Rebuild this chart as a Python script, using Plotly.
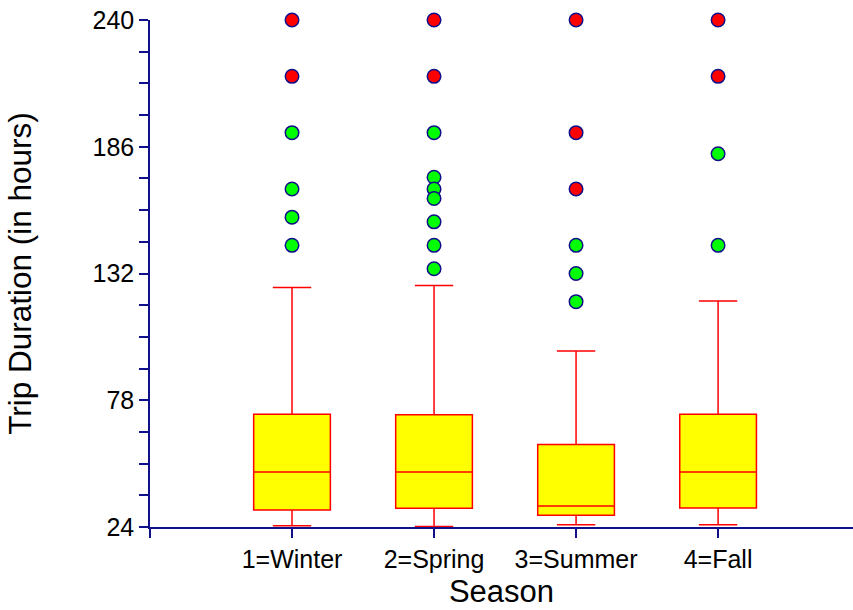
import plotly.graph_objects as go

# Trip duration summary per season (hours)
seasons = ["1=Winter", "2=Spring", "3=Summer", "4=Fall"]
season_pos = [1, 2, 3, 4]
q1 = [31.2, 32.0, 29.0, 32.1]
median = [47.4, 47.4, 32.9, 47.4]
q3 = [72.0, 71.8, 59.2, 72.0]
lower_whisker = [24.5, 24.2, 25.0, 25.0]
upper_whisker = [126.0, 126.9, 99.0, 120.3]

# Outliers: near (between inner and outer fence) and far (beyond outer fence)
near_season = [1, 1, 1, 1,
               2, 2, 2, 2, 2, 2, 2,
               3, 3, 3,
               4, 4]
near_value = [192, 168, 156, 144,
              192, 173, 168, 164, 154, 144, 134,
              144, 132, 120,
              183, 144]
far_season = [1, 1, 2, 2, 3, 3, 3, 4, 4]
far_value = [240, 216, 240, 216, 240, 192, 168, 240, 216]

NAVY = "#10108a"
FONT = "Liberation Sans, Arial, sans-serif"

fig = go.Figure()
fig.add_trace(go.Box(
    x=season_pos,
    q1=q1, median=median, q3=q3,
    lowerfence=lower_whisker, upperfence=upper_whisker,
    boxpoints=False,
    fillcolor="#ffff00",
    line=dict(color="#ff0000", width=1.5),
    width=0.54,
    whiskerwidth=0.5,
    showlegend=False,
    hoverinfo="skip",
))
fig.add_trace(go.Scatter(
    x=near_season, y=near_value, mode="markers",
    marker=dict(size=13.5, color="#00ff00", line=dict(color=NAVY, width=1.5)),
    cliponaxis=False, showlegend=False,
))
fig.add_trace(go.Scatter(
    x=far_season, y=far_value, mode="markers",
    marker=dict(size=13.5, color="#ff0000", line=dict(color=NAVY, width=1.5)),
    cliponaxis=False, showlegend=False,
))

fig.update_layout(
    width=853, height=610,
    margin=dict(l=150, r=0, t=20, b=83),
    paper_bgcolor="white", plot_bgcolor="white",
    font=dict(family=FONT, color="black"),
    xaxis=dict(
        range=[0, 4.95],
        tickmode="array",
        tickvals=[0] + season_pos,
        ticktext=[""] + seasons,
        ticks="outside", ticklen=9, tickwidth=1.5, tickcolor=NAVY,
        showline=True, linecolor=NAVY, linewidth=1.5,
        showgrid=False, zeroline=False,
        tickfont=dict(size=25),
        title=dict(text="Season", font=dict(size=31), standoff=9),
    ),
    yaxis=dict(
        range=[24, 240],
        tickmode="linear", tick0=24, dtick=54,
        ticks="outside", ticklen=9, tickwidth=1.5, tickcolor=NAVY,
        minor=dict(dtick=13.5, tick0=24, ticks="outside", ticklen=9,
                   tickwidth=1.5, tickcolor=NAVY, showgrid=False),
        showline=True, linecolor=NAVY, linewidth=1.5,
        showgrid=False, zeroline=False,
        tickfont=dict(size=25),
        title=dict(text="Trip Duration (in hours)", font=dict(size=31.5), standoff=52),
    ),
)

fig.write_html("out.html")
